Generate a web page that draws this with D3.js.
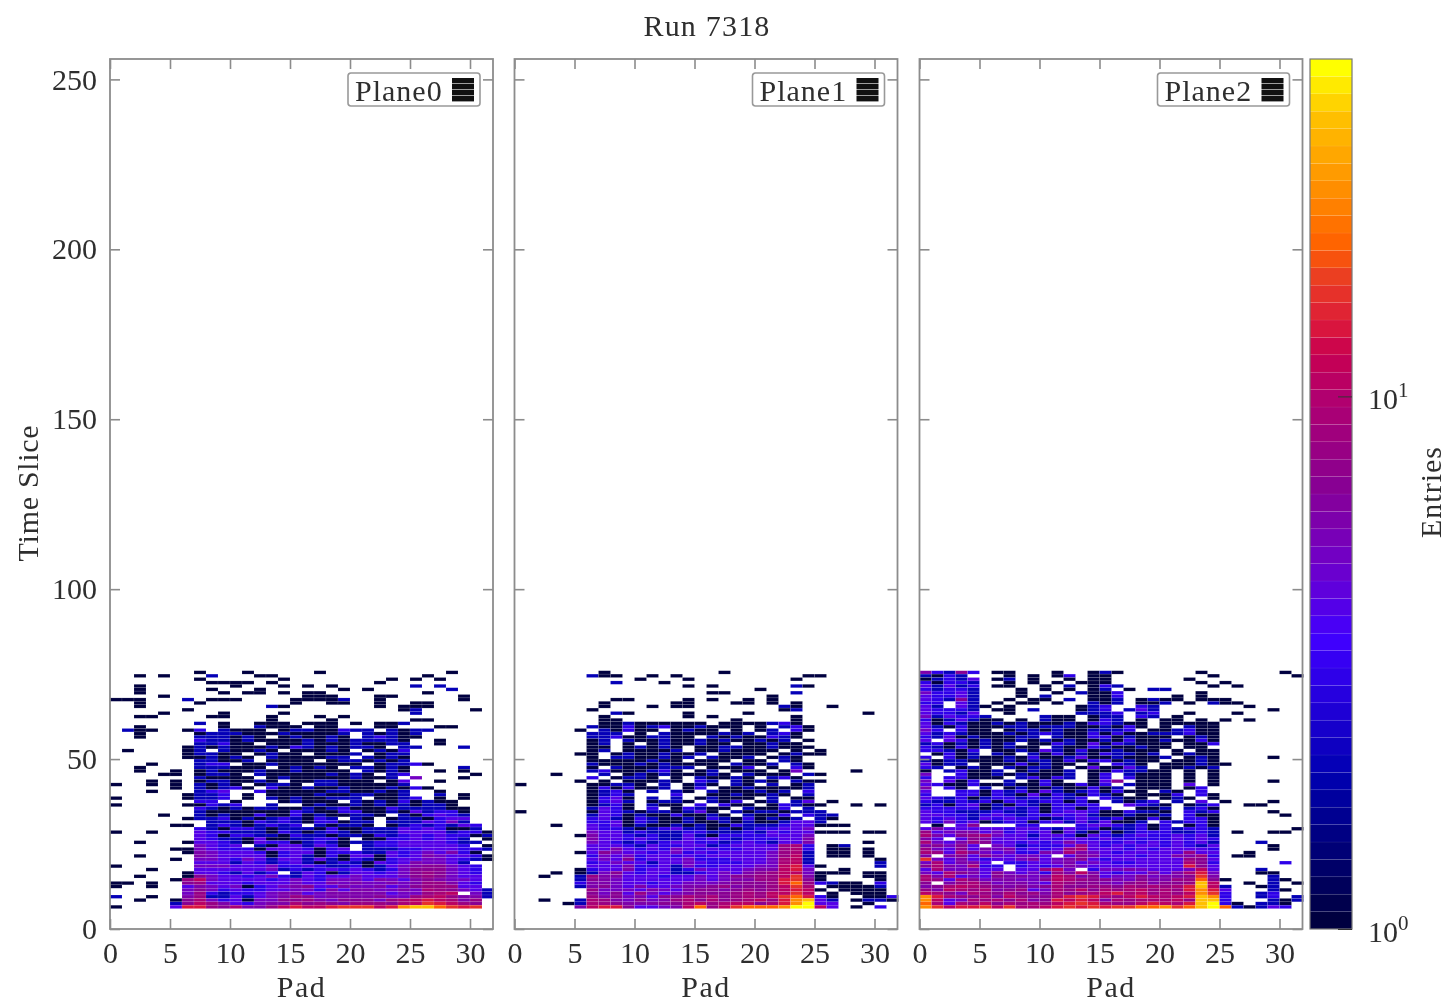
<!DOCTYPE html>
<html>
<head>
<meta charset="utf-8">
<script src="https://cdn.jsdelivr.net/npm/d3@7"></script>
<style>
html,body{margin:0;background:#fff;}
svg{display:block;filter:blur(.65px);}
text{font-family:'Liberation Serif',serif;fill:#2e2e2e;}
.tick line{stroke:#8c8c8c;stroke-width:1.6;}
.domain{display:none;}
</style>
</head>
<body>
<svg id="chart" width="1448" height="1003"></svg>
<script>
const planeNames=['Plane0','Plane1','Plane2'];
const xTicks=[0,5,10,15,20,25,30];
const yTicks=[0,50,100,150,200,250];
const firstSlice=75; // rows below run from this time slice down to 6
// cell codes read off the colour of each cell: . is empty
const levelCounts={1:1,2:2,3:3,4:4,5:4,6:5,7:6,8:7,9:8,a:9,b:11,c:13,d:16,e:20,f:25,g:32,h:43};
const colourFracs=[0,.17,.33,.42,.516,.61,.665,.70,.757,.79,.86,.94,1];
const colourStops=['#000040','#0000b0','#4000ff','#7000c8','#8a0090','#b00070','#c80050','#dc1a3a','#ec4020','#ff6000','#ff9000','#ffc000','#ffff00'];

const plane0Rows=[
".......1...1.....1..........1...",
"..1.1...2...11............1.....",
".......1......1........1.1.1....",
"........1111.1........1.........",
"..1.......1...1.1.1......2.2....",
"..1.....1...1......1.1......2...",
"..1......1.11.1.11........1.....",
"....1...........111...11.....1..",
"111...2.111....11112..1......1..",
"..1....1.......1..11..1..11.....",
"..1..........21.......1.111.....",
"......1.................12....1.",
"....1....1....1..........2......",
"..11....11...1...1.1............",
".............1....1......11.....",
".......2.1..111.111.1.112.......",
"..1......1..2111.11...11...11...",
".211..13.2111.12211322.2122.....",
"..1....1222111211112.21212......",
"..1....222121.121121.23211......",
".......322121111212122221..1....",
".......22311.111211121122..1....",
"......12121112132121221.22...2..",
".1....12.21121.11121.1213.......",
"......12211.1211.1112.122.......",
"......112121.2111122.2121.......",
".......22112.1111.1221212.......",
"...1...233.1121111111.12231.....",
"..1....222111.12121.22121....2..",
"..1..1.1211121121111.2121..1.1..",
"....11.1221.2111112121.23.....1.",
".......21111.12111112112.6...1..",
"...1.1.1221121.1122111.14..1....",
"1..1.1.2121.1221.22111112.......",
".....1.21231.31121121112131.....",
"...1...234..3111112211212..1....",
"......1223.1.111121122112..2.1..",
"1.....1223.1.21211222.1123.1.1..",
".......33.1...12111.212131211...",
"1.....11323..2..1211212121221...",
".......32121221121231113222211..",
".......21111111321133112142331..",
"....1..2121131131211221.213432..",
"......1223121232132.21.1221354..",
"........22213232133122.2224362..",
".....11.23212323.21221.12323243.",
".......321332122213112224343112.",
"1..1...4332221321232122245452331",
".......4313322132212213234343312",
".......5322141122331.113343532.1",
"..1...1543214331232122334544322.",
".......6434.21442431.233455543.1",
".....116433315443134.22233454332",
"......1765443134413332243565731.",
"..1....7655541352131441435765431",
".....1.6653652442421321354665321",
".......55425323421232143576652..",
"1......666554633432231256788643.",
"...1...445454623235343236888643.",
"......15532523.2531254356898643.",
"..1...1865435632535464446898645.",
".....19b65445346536664765787664.",
"11.1..8954534456547676676799753.",
"1..1..5765613567845766756899955.",
"......68634334566375776676a98642",
"......693233467756777775669ab.62",
"2..1..79225256798677778669ab9772",
"..1..18a6351668897688869abcba79.",
".....28b9743677a89879998abdcb98.",
"1....4cc98a779bcbbcdddbcfggedcd."
];

const plane1Rows=[
".......1.........1..............",
"......211..1.1..........11......",
"..........1...1........1........",
"........2...1...................",
"..............1.1......21.......",
"....................1...........",
"................11.....2........",
".....................1..........",
"........11....1.1..1.1..........",
".......1.....11...11.1.1........",
".......1...1.11.......21..1.....",
"......1...............12........",
"........21....1....1.........1..",
".......1......1.1......1........",
".......11.........1....1........",
".......112111111.1111231........",
"......2113123112111.1.231.......",
".....1.21311.1211.1.12.31.......",
"......222.1.21111212.231........",
"......223112211.21211321........",
"......12.21121121211212.1.......",
"......12.1.1211211.11211........",
"......11.12121.1122112111.......",
"......12.11112.1121111.1.1......",
".....11.12112112.1111.1211......",
"......1.2211212.2112.121........",
"......11111211.111.11.21........",
"......21112121111.2112.21.......",
"......1.2111222.1113.1.31.......",
"......23111231.12.111.16....1...",
"...1...2.121211121.2111.21......",
"......3.1221.1.21121.231........",
".....1.1.11121.32.2121.211......",
"1.....11221.2.121.21.2.12.......",
"......1313112.13.11211112.......",
"......1231.2.21.2111212.3.......",
"......1232...3..1121121.2.......",
"......1341.2.2.12111.2.11.......",
"......1342.1221.213.12.25.1.....",
"......1231.211.3.311.13211..1.1.",
"......2431.3.13211.2113.2.......",
"1.....14321221241.21221222......",
"......243121131121.2113.322.....",
"......342132112132131212.21.....",
"......33413211211212112452......",
"...1..4341211212113222345111....",
"......5332123422121233456.......",
"......6442322233222324345111.11.",
".....17543232242133334456.......",
"......7443432253432333457.......",
"......6532323443323432557....1..",
"......54432433552344459a3.12....",
"......45743436434334559a3.11.1..",
".....158645346343454569a2.11.1..",
"......36563443534454569b2.11.1..",
"......4658344463334556ab2.....1.",
"......3464524464333556ab2.....2.",
"......4557334263344566bc51....2.",
".....13457345236445677bc6..1....",
"...1.12685345223565789bb6111.11.",
"..1..29775443456568899bd71...11.",
".....28765445456567799cd81....1.",
".....37764534566678889ce93211.3.",
".....27865745677897889bda.11112.",
"......9666476578878989bcb1.1111.",
"......8685965678889a9bbdb.1.111.",
"......97867588a9a89a9bdec31..113",
"..1..2a9768679a8a89ab9cfg42.1221",
"....12a9877788ab9abb8acfh54..1..",
".....7bcc85567be9bdeeefhhb4.1.3."
];

const plane2Rows=[
"73283.11...1..121......1......1.",
"2132...1.1.13.11........1......1",
"12324.12.1..1.11......1.........",
"31332..1.1.1.111.......1.1......",
"52423.11..1.2.132.......1.1.....",
"32332...1.1.1.12.1.22...........",
"63342...1..1.2113......1........",
"43342...1.2...113....1.1........",
"53282..1.11.2.112.1211.111......",
"33.42.1.11.1..212.112.1.211.....",
"52.421.1.....123..32.......1....",
"43332.11.2...123.242.........1..",
"53324..1.....2223.23..1...1.....",
"624332....211.122.32.1..........",
"3125211.1.211.132.1.11.1.1.1....",
"4132112121112133211.11111.......",
"5213111221222112131.1.211.......",
"63.311.12212112223.112311.......",
"5232111212321131311222311.......",
"3241211122.2113312111.121.......",
"4.43121121212112131121131.......",
"23121212.113214132111.113.......",
"3213121211.2113211211.11........",
"33213.11214213112111.1.11.......",
".1312.21.21312132212.1211.......",
"3.3121121311241121112.121....1..",
"21221112122131331211.1121.......",
"5122.11131211.1.321.111211......",
"32.121.21221.141152.11212.......",
"1.23112.12112.1132211.1.1.......",
"6..3112121112.13.2111.1.1.......",
"3.33111.23132.13.3111.1.1.......",
"6.413..2.131..148.111.1.1....1..",
"5311311211311313.2111.5.1.......",
"7.31.2.1211211312.111.13........",
"5..3313231421231311.21.3........",
"3..33132141321321.1113.31.......",
"43231233232323.3211.121.1.......",
"322323133233131.2123.2.5.1...1..",
"231341213213333..5321.123..11...",
"3333312323133133..112.231.......",
"433222322313443113221.323....1..",
"543323432334342112112.311.....1.",
"434325343312343231131.331.......",
"5363412331342424112.32331.......",
".1.48...33...34532313.131.......",
"5745454344324331223132332......1",
"9567746343514213123332232.1..11.",
"a7589a6542453143234334342.......",
"75.5874543435434333334343.......",
"a657985434347543353434342...2...",
"78684.652333594343543432 5....1..",
"9658576734359a54434344453....1..",
"a95a86563376a76434445 4955..1....",
"7.78586566 5.58754434 47793.11....",
"d6574345674678534454 54984.......",
"6a5774.33456746533545 5a83.....3.",
"8a76a33.3435765455544 4c84.......",
"5a66654.449b6.366765546b5...2...",
"65a8748656397b75345757ac6...11..",
"a7a46587767ba78566867 78d7....2..",
"a95a8677668ba98876877 99e81...21.",
"8.79a867765a98876897 889gb..1.2.1",
"78aba987878a88998a9a9acgb2..12..",
"97ba9a78956a9b8a9ab9a9cfc4...21.",
"ba86a98a897a89abcab9a9bfd3..23..",
"fca98a7b988acdca9bcbabcgf3..23.2",
"fb46a9a8a78cbcb7a9aaab9gg3...212",
"ea5a9b8a9a9bcdca99bcbacgh31.221.",
"fdbccdbdaabcdcdcddeefdeghe21253."
].map(r=>r.replace(/ /g,''));

const planeRows=[plane0Rows,plane1Rows,plane2Rows];

const svg=d3.select('#chart');
const panelX=[110,514.5,919.5],panelW=384,plotTop=59,plotBottom=929;
const x=d3.scaleLinear().domain([0,32]).range([0,panelW]);
const y=d3.scaleLinear().domain([0,256]).range([plotBottom,plotTop]);

// log colour scale, quantised into 50 bands like the original palette
const countScale=d3.scaleLog().domain([1,43]).range([0,1]);
const fracColour=d3.scaleLinear().domain(colourFracs).range(colourStops).interpolate(d3.interpolateRgb);
const nBands=50;
function bandColour(f){return fracColour(Math.min(nBands-1,Math.floor(f*nBands))/(nBands-1));}

function cellsOf(rows){
  const out=[];
  rows.forEach((row,i)=>{
    [...row.padEnd(32,'.').slice(0,32)].forEach((ch,pad)=>{
      if(ch==='.')return;
      out.push({pad,slice:firstSlice-i,count:levelCounts[ch]});
    });
  });
  return out;
}

planeNames.forEach((name,p)=>{
  const g=svg.append('g').attr('transform',`translate(${panelX[p]},0)`);
  g.selectAll('rect.cell').data(cellsOf(planeRows[p])).enter().append('rect')
    .attr('class','cell')
    .attr('x',d=>x(d.pad)).attr('width',x(1)-x(0))
    .attr('y',d=>y(d.slice+1)).attr('height',y(0)-y(1))
    .attr('fill',d=>bandColour(countScale(d.count)))
    .attr('stroke','#fff').attr('stroke-opacity',.2).attr('stroke-width',.5);

  g.append('rect').attr('x',0).attr('y',plotTop).attr('width',panelW-1).attr('height',plotBottom-plotTop)
    .attr('fill','none').attr('stroke','#8c8c8c').attr('stroke-width',1.8);

  const bottom=g.append('g').attr('transform',`translate(0,${plotBottom})`)
    .call(d3.axisBottom(x).tickValues(xTicks).tickSizeInner(-10).tickSizeOuter(0).tickPadding(13));
  g.append('g').attr('transform',`translate(0,${plotTop})`)
    .call(d3.axisTop(x).tickValues(xTicks).tickSizeInner(-10).tickSizeOuter(0).tickFormat(''));
  const left=g.append('g')
    .call(d3.axisLeft(y).tickValues(yTicks).tickSizeInner(-10).tickSizeOuter(0).tickPadding(13).tickFormat(p===0?d3.format('d'):''));
  g.append('g').attr('transform',`translate(${panelW-1},0)`)
    .call(d3.axisRight(y).tickValues(yTicks).tickSizeInner(-10).tickSizeOuter(0).tickFormat(''));
  bottom.selectAll('text').style('font-size','30px').attr('font-family',null);
  left.selectAll('text').style('font-size','30px').attr('font-family',null);

  g.append('text').attr('x',x(16)-.5).attr('y',996.5).attr('text-anchor','middle').style('font-size','30px').style('letter-spacing','1.5px').text('Pad');

  // legend
  const lg=g.append('g').attr('transform','translate(238,73)');
  lg.append('rect').attr('width',132).attr('height',33).attr('rx',3)
    .attr('fill','#fff').attr('stroke','#999').attr('stroke-width',1.6);
  lg.append('text').attr('x',7).attr('y',28).style('font-size','30px').style('letter-spacing','1px').text(name);
  d3.range(4).forEach(i=>{
    lg.append('rect').attr('x',104).attr('y',5+i*6).attr('width',22).attr('height',5.4).attr('fill','#111');
  });
});

svg.append('text').attr('x',707).attr('y',36).attr('text-anchor','middle').style('font-size','30px').style('letter-spacing','1.2px').text('Run 7318');
svg.append('text').attr('transform','translate(38,493) rotate(-90)').attr('text-anchor','middle').style('font-size','30px').style('letter-spacing','.7px').text('Time Slice');

// colour bar
const barX=1310,barW=42;
const barY=d3.scaleLog().domain([1,43]).range([plotBottom,plotTop]);
const bar=svg.append('g').attr('transform',`translate(${barX},0)`);
const bands=d3.range(nBands);
bar.selectAll('rect.band').data(bands).enter().append('rect')
  .attr('class','band').attr('x',0).attr('width',barW)
  .attr('y',d=>plotBottom-(d+1)*(plotBottom-plotTop)/nBands)
  .attr('height',(plotBottom-plotTop)/nBands)
  .attr('fill',d=>fracColour(d/(nBands-1)))
  .attr('stroke','#fff').attr('stroke-opacity',.1).attr('stroke-width',.6);
bar.append('rect').attr('width',barW).attr('y',plotTop).attr('height',plotBottom-plotTop)
  .attr('fill','none').attr('stroke','#777').attr('stroke-width',1.2);
const barAxis=bar.append('g').attr('transform',`translate(${barW},0)`)
  .call(d3.axisRight(barY).tickValues([1,10]).tickSizeInner(-14).tickSizeOuter(0).tickPadding(16).tickFormat(''));
barAxis.selectAll('.tick line').style('stroke','#333').style('stroke-width',1);
barAxis.selectAll('.tick').each(function(d){
  const t=d3.select(this).select('text').attr('dy',null).attr('y',12).style('font-size','30px');
  t.append('tspan').text('10');
  t.append('tspan').attr('dy',-12).style('font-size','21px').text(Math.round(Math.log10(d)));
});
svg.append('text').attr('transform','translate(1441,492) rotate(-90)').attr('text-anchor','middle').style('font-size','30px').style('letter-spacing','1px').text('Entries');
</script>
</body>
</html>
